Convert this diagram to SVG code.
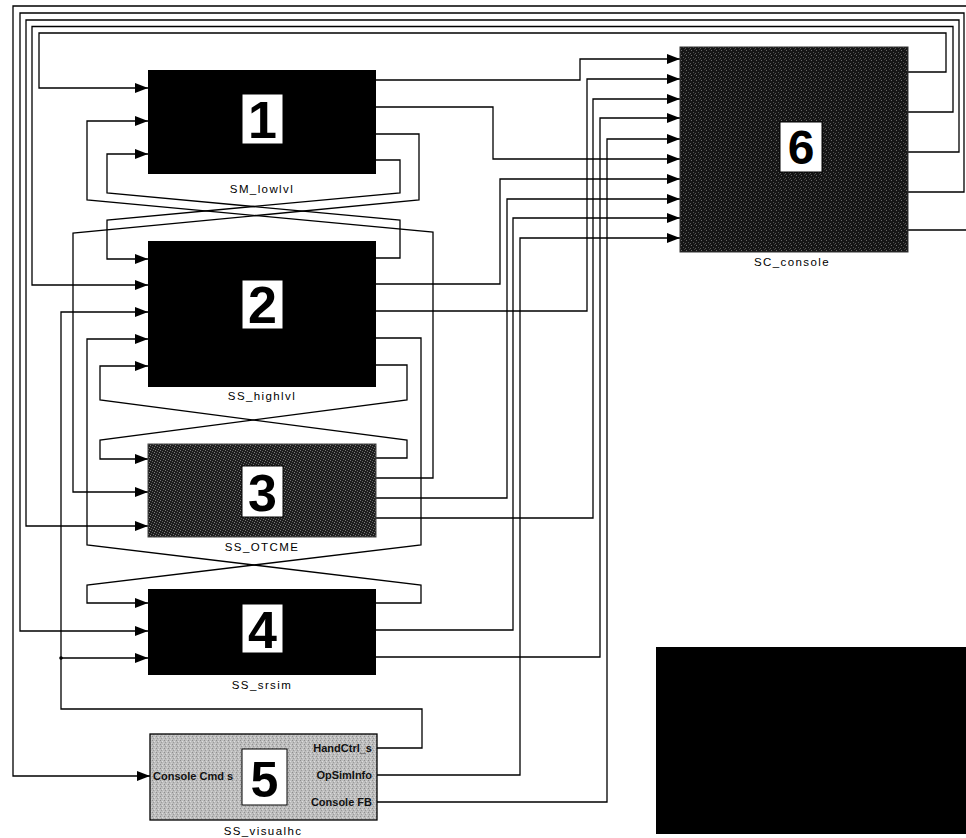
<svg xmlns="http://www.w3.org/2000/svg" width="966" height="838" viewBox="0 0 966 838">
<style>
.w{fill:none;stroke:#000;stroke-width:1.3;marker-end:url(#arr)}
.lbl{font-family:"Liberation Sans",Arial,sans-serif;font-size:11.5px;letter-spacing:1.4px;text-anchor:middle;fill:#000}
.num{font-family:"Liberation Sans",Arial,sans-serif;font-weight:bold;font-size:52px;text-anchor:middle;fill:#000}
.nbox{fill:#fff;stroke:#000;stroke-width:1}
.port{font-family:"Liberation Sans",Arial,sans-serif;font-weight:bold;font-size:11px;fill:#111}
</style>
<defs>
<marker id="arr" markerUnits="userSpaceOnUse" markerWidth="13" markerHeight="10" refX="13" refY="5" orient="auto">
<path d="M0,0 L13,5 L0,10 z" fill="#000"/>
</marker>
<pattern id="texDark" width="5" height="5" patternUnits="userSpaceOnUse">
<rect width="5" height="5" fill="#161616"/>
<rect x="1" y="0" width="1" height="1" fill="#6a6a6a"/>
<rect x="3" y="2" width="1" height="1" fill="#505050"/>
<rect x="0" y="3" width="1" height="1" fill="#5a5a5a"/>
<rect x="4" y="4" width="1" height="1" fill="#404040"/>
</pattern>
<pattern id="texMid" width="5" height="5" patternUnits="userSpaceOnUse">
<rect width="5" height="5" fill="#1e1e1e"/>
<rect x="0" y="0" width="1" height="1" fill="#7a7a7a"/>
<rect x="2" y="1" width="1" height="1" fill="#606060"/>
<rect x="4" y="2" width="1" height="1" fill="#808080"/>
<rect x="1" y="3" width="1" height="1" fill="#5a5a5a"/>
<rect x="3" y="4" width="1" height="1" fill="#707070"/>
</pattern>
<pattern id="texLight" width="4" height="4" patternUnits="userSpaceOnUse">
<rect width="4" height="4" fill="#bdbdbd"/>
<rect x="0" y="0" width="1" height="1" fill="#8e8e8e"/>
<rect x="2" y="1" width="1" height="1" fill="#dcdcdc"/>
<rect x="1" y="2" width="1" height="1" fill="#9a9a9a"/>
<rect x="3" y="3" width="1" height="1" fill="#d2d2d2"/>
</pattern>
</defs>
<rect width="966" height="838" fill="#fff"/>

<g id="connectors">
<path class="w" d="M908,72 H946 V33 H39 V88 H148"/>
<path class="w" d="M908,112 H953 V26.5 H32 V285 H148"/>
<path class="w" d="M908,152 H959 V20 H26 V526 H148"/>
<path class="w" d="M908,192 H964 V13 H20 V631 H148"/>
<path class="w" d="M908,230 H972 V6 H13 V776 H150"/>
<path class="w" d="M376,160 H400 V193 L107,220 V259 H148"/>
<path class="w" d="M376,258 H400 V220 L107,193 V154 H148"/>
<path class="w" d="M376,478 H433 V232 L87,200 V121 H148"/>
<path class="w" d="M376,134 H419 V200 L73,233 V492 H148"/>
<path class="w" d="M376,365 H407 V400 L100,440 V459 H148"/>
<path class="w" d="M376,458 H407 V440 L100,400 V366 H148"/>
<path class="w" d="M376,338 H421 V545 L87,585 V603 H148"/>
<path class="w" d="M376,603 H421 V585 L87,545 V339 H148"/>
<path class="w" d="M377,748 H422 V709 H61 V312 H148"/>
<path class="w" d="M61,658 H148"/>
<circle cx="61" cy="658" r="1.8" fill="#000"/>
<path class="w" d="M376,80 H580 V59 H680"/>
<path class="w" d="M376,311 H587 V79 H680"/>
<path class="w" d="M376,518 H593 V99 H680"/>
<path class="w" d="M376,657 H600 V118 H680"/>
<path class="w" d="M377,802 H607 V139 H680"/>
<path class="w" d="M376,107 H493 V159 H680"/>
<path class="w" d="M376,284 H500 V179 H680"/>
<path class="w" d="M376,498 H507 V199 H680"/>
<path class="w" d="M376,630 H513 V218 H680"/>
<path class="w" d="M377,775 H520 V238 H680"/>
</g>

<g id="node1">
<rect x="148" y="70" width="228" height="104" fill="#000"/>
<rect class="nbox" x="242" y="94" width="41" height="50"/>
<text class="num" x="262.5" y="138">1</text>
<text class="lbl" x="262" y="193">SM_lowlvl</text>
</g>

<g id="node2">
<rect x="148" y="241" width="228" height="146" fill="#000"/>
<rect class="nbox" x="242" y="280" width="41" height="49"/>
<text class="num" x="262.5" y="323">2</text>
<text class="lbl" x="262" y="400">SS_highlvl</text>
</g>

<g id="node3">
<rect x="148" y="444" width="228" height="93" fill="url(#texMid)" stroke="#444" stroke-width="1"/>
<rect class="nbox" x="242" y="466" width="41" height="51"/>
<text class="num" x="262.5" y="511">3</text>
<text class="lbl" x="262" y="551">SS_OTCME</text>
</g>

<g id="node4">
<rect x="148" y="589" width="228" height="86" fill="#000"/>
<rect class="nbox" x="242" y="604" width="41" height="49"/>
<text class="num" x="262.5" y="648">4</text>
<text class="lbl" x="262" y="689">SS_srsim</text>
</g>

<g id="node5">
<rect x="150" y="734" width="227" height="86" fill="url(#texLight)" stroke="#000" stroke-width="1.3"/>
<text class="port" x="153" y="780">Console Cmd s</text>
<rect class="nbox" x="242" y="749" width="45" height="56" stroke-width="1.5"/>
<text class="num" x="264.5" y="797" style="font-size:50px">5</text>
<text class="port" x="372" y="752" text-anchor="end">HandCtrl_s</text>
<text class="port" x="372" y="779" text-anchor="end">OpSimInfo</text>
<text class="port" x="372" y="806" text-anchor="end">Console FB</text>
<text class="lbl" x="263" y="835">SS_visualhc</text>
</g>

<g id="node6">
<rect x="680" y="47" width="228" height="205" fill="url(#texDark)" stroke="#333" stroke-width="1"/>
<rect class="nbox" x="780" y="122" width="42" height="50"/>
<text class="num" x="801" y="164" style="font-size:48px">6</text>
<text class="lbl" x="792" y="266">SC_console</text>
</g>

<g id="blackpanel">
<rect x="656" y="647" width="310" height="187" fill="#000"/>
</g>
</svg>
